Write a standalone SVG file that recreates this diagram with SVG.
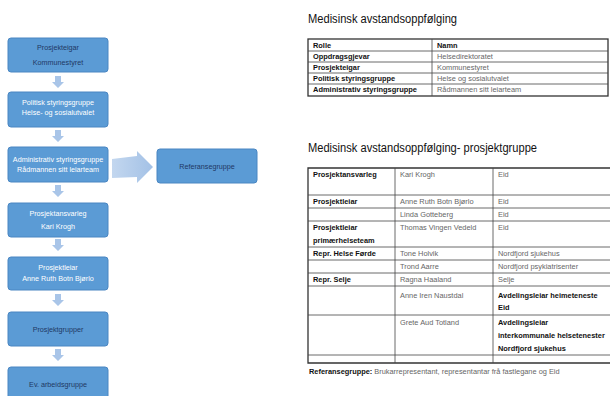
<svg xmlns="http://www.w3.org/2000/svg" width="610" height="396" viewBox="0 0 610 396">
<style>
.box{fill:#5b9bd5;stroke:#4a86c2;stroke-width:1}
.bt{font-family:"Liberation Sans",Arial,sans-serif;font-size:7.2px;text-anchor:middle}
.w{fill:#ffffff}
.d{fill:#1f3864}
.arr{fill:#a9c5e8}
.title{font-family:"Liberation Sans",Arial,sans-serif;font-size:12.5px;fill:#111}
.tb{font-family:"Liberation Sans",Arial,sans-serif;font-size:7.4px;font-weight:bold;fill:#111}
.tn{font-family:"Liberation Sans",Arial,sans-serif;font-size:7.4px;fill:#666}
.ln{stroke:#444;stroke-width:0.8;fill:none}
.ob{stroke:#333;stroke-width:1.3;fill:none}
</style>
<defs>
<linearGradient id="ag" x1="0" y1="0" x2="1" y2="0">
<stop offset="0" stop-color="#c3d7ef"/><stop offset="1" stop-color="#a3c1e6"/>
</linearGradient>
</defs>
<rect width="610" height="396" fill="#ffffff"/>
<g id="connectors">
<polygon class="arr" points="55,76 61,76 61,82 64,82 58,88 52,82 55,82"/>
<polygon class="arr" points="55,130 61,130 61,136 64,136 58,142 52,136 55,136"/>
<polygon class="arr" points="55,185 61,185 61,191 64,191 58,197 52,191 55,191"/>
<polygon class="arr" points="55,239 61,239 61,245 64,245 58,251 52,245 55,245"/>
<polygon class="arr" points="55,294 61,294 61,300 64,300 58,306 52,300 55,300"/>
<polygon class="arr" points="55,349 61,349 61,355 64,355 58,361 52,355 55,355"/>
<polygon fill="url(#ag)" points="112,159 137,156 137,151 153,167 137,183 137,177 112,178"/>
</g>
<g id="n1"><rect class="box" x="8" y="38" width="100" height="34" rx="3"/>
<text class="bt d" x="58" y="50">Prosjekteigar</text><text class="bt d" x="58" y="65">Kommunestyret</text></g>
<g id="n2"><rect class="box" x="8" y="92" width="100" height="35" rx="3"/>
<text class="bt w" x="58" y="105">Politisk styringsgruppe</text><text class="bt w" x="58" y="115">Helse- og sosialutvalet</text></g>
<g id="n3"><rect class="box" x="8" y="147" width="100" height="35" rx="3"/>
<text class="bt w" x="58" y="162">Administrativ styringsgruppe</text><text class="bt w" x="58" y="172">Rådmannen sitt leiarteam</text></g>
<g id="n4"><rect class="box" x="8" y="203" width="100" height="34" rx="3"/>
<text class="bt w" x="58" y="216">Prosjektansvarleg</text><text class="bt w" x="58" y="229">Kari Krogh</text></g>
<g id="n5"><rect class="box" x="8" y="257" width="100" height="33" rx="3"/>
<text class="bt w" x="58" y="270">Prosjektleiar</text><text class="bt w" x="58" y="281">Anne Ruth Botn Bjørlo</text></g>
<g id="n6"><rect class="box" x="8" y="312" width="100" height="34" rx="3"/>
<text class="bt d" x="58" y="332">Prosjektgrupper</text></g>
<g id="n7"><rect class="box" x="8" y="367" width="100" height="33" rx="3"/>
<text class="bt d" x="58" y="387">Ev. arbeidsgruppe</text></g>
<g id="ref"><rect class="box" x="157" y="149" width="100" height="34" rx="3"/>
<text class="bt d" x="207" y="169">Referansegruppe</text></g>
<g id="table1">
<text class="title" x="308" y="23" textLength="149" lengthAdjust="spacingAndGlyphs">Medisinsk avstandsoppfølging</text>
<rect class="ob" x="308" y="39" width="300" height="57"/>
<path class="ln" d="M308 51H608M308 62H608M308 73H608M308 84H608M432 39V96"/>
<text class="tb" x="313" y="48">Rolle</text><text class="tb" x="437" y="48">Namn</text>
<text class="tb" x="313" y="59">Oppdragsgjevar</text><text class="tn" x="437" y="59">Helsedirektoratet</text>
<text class="tb" x="313" y="70">Prosjekteigar</text><text class="tn" x="437" y="70">Kommunestyret</text>
<text class="tb" x="313" y="81">Politisk styringsgruppe</text><text class="tn" x="437" y="81">Helse og sosialutvalet</text>
<text class="tb" x="313" y="92" textLength="104" lengthAdjust="spacingAndGlyphs">Administrativ styringsgruppe</text><text class="tn" x="437" y="92">Rådmannen sitt leiarteam</text>
</g>
<g id="table2">
<text class="title" x="308" y="152" textLength="229" lengthAdjust="spacingAndGlyphs">Medisinsk avstandsoppfølging- prosjektgruppe</text>
<path class="ob" d="M612 168H308V363H612"/>
<path class="ln" d="M308 195H612M308 208H612M308 221H612M308 247H612M308 260H612M308 273H612M308 286H612M308 315H612M308 355H612M395 168V363M493 168V363"/>
<text class="tb" x="313" y="177">Prosjektansvarleg</text><text class="tn" x="400" y="177">Kari Krogh</text><text class="tn" x="498" y="177">Eid</text>
<text class="tb" x="313" y="204">Prosjektleiar</text><text class="tn" x="400" y="204">Anne Ruth Botn Bjørlo</text><text class="tn" x="498" y="204">Eid</text>
<text class="tn" x="400" y="217">Linda Gotteberg</text><text class="tn" x="498" y="217">Eid</text>
<text class="tb" x="313" y="230">Prosjektleiar</text><text class="tb" x="313" y="243">primærhelseteam</text><text class="tn" x="400" y="230">Thomas Vingen Vedeld</text><text class="tn" x="498" y="230">Eid</text>
<text class="tb" x="313" y="256">Repr. Helse Førde</text><text class="tn" x="400" y="256">Tone Holvik</text><text class="tn" x="498" y="256">Nordfjord sjukehus</text>
<text class="tn" x="400" y="269">Trond Aarre</text><text class="tn" x="498" y="269">Nordfjord psykiatrisenter</text>
<text class="tb" x="313" y="282">Repr. Selje</text><text class="tn" x="400" y="282">Ragna Haaland</text><text class="tn" x="498" y="282">Selje</text>
<text class="tn" x="400" y="298">Anne Iren Naustdal</text><text class="tb" x="498" y="298">Avdelingsleiar heimeteneste</text><text class="tb" x="498" y="310">Eid</text>
<text class="tn" x="400" y="325">Grete Aud Totland</text><text class="tb" x="498" y="325">Avdelingsleiar</text><text class="tb" x="498" y="338">interkommunale helsetenester</text><text class="tb" x="498" y="351">Nordfjord sjukehus</text>
<text class="tn" x="309" y="374"><tspan class="tb">Referansegruppe:</tspan> Brukarrepresentant, representantar frå fastlegane og Eid</text>
</g>
</svg>
